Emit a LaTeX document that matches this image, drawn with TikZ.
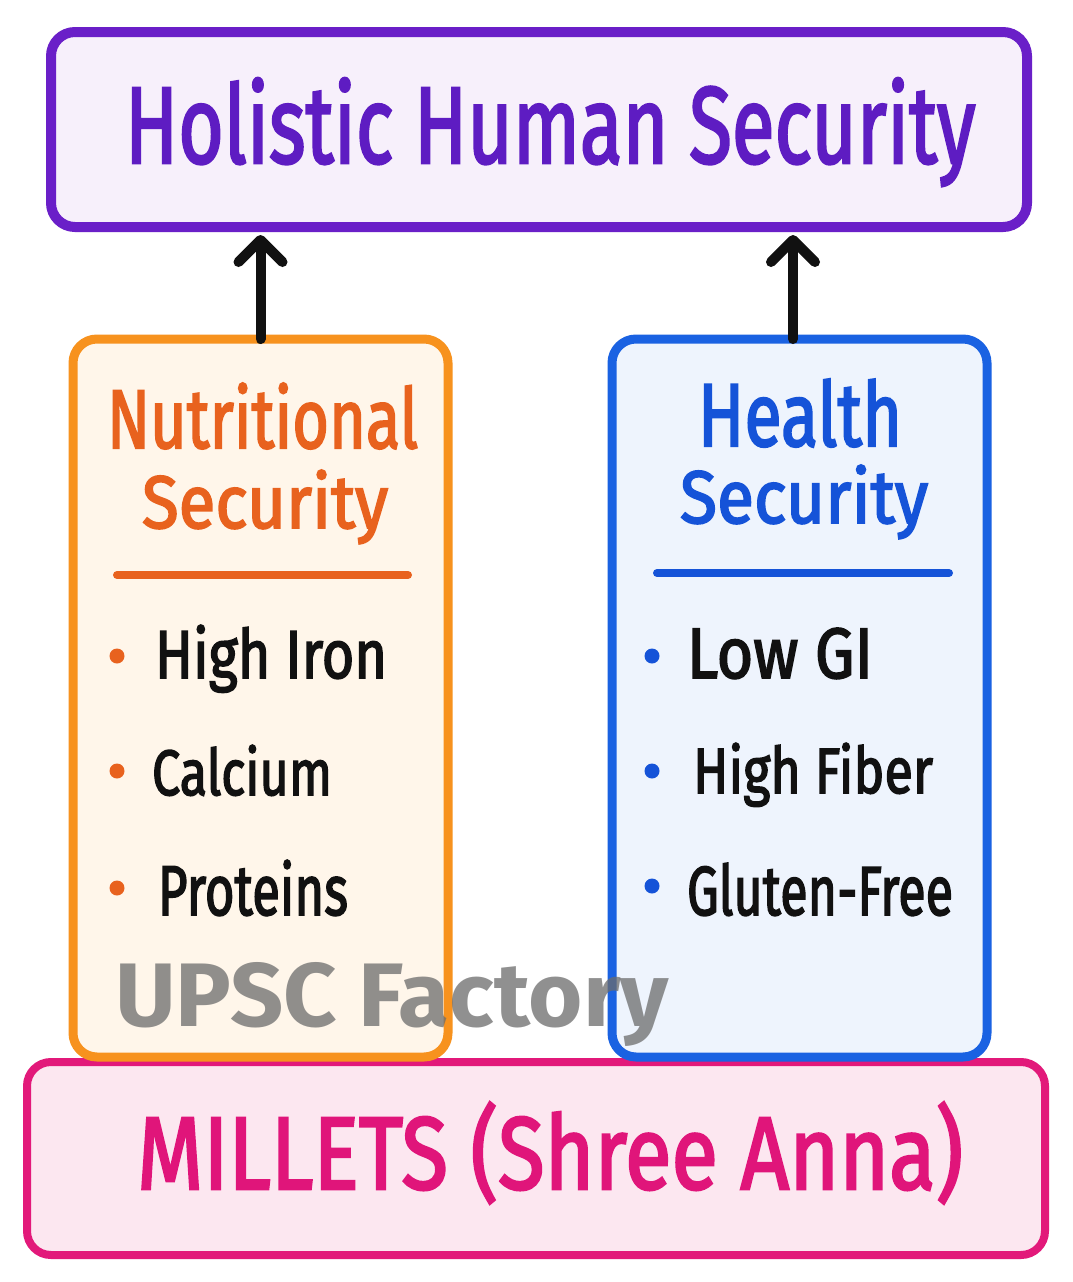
\documentclass[tikz,border=0pt]{standalone}
\usepackage{fontspec}
\setmainfont{Fira Sans}
\newfontfamily\hand{Fira Sans}[FakeBold=2.5]
\usetikzlibrary{arrows.meta}
\definecolor{purpleline}{HTML}{6A1FC8}
\definecolor{purpletext}{HTML}{5E1CC2}
\definecolor{purplefill}{HTML}{F7F0FB}
\definecolor{orangeline}{HTML}{F7921E}
\definecolor{orangetext}{HTML}{E8621E}
\definecolor{orangefill}{HTML}{FFF6EA}
\definecolor{blueline}{HTML}{1A62E2}
\definecolor{bluetext}{HTML}{1553D8}
\definecolor{bluefill}{HTML}{EEF4FD}
\definecolor{pinkline}{HTML}{E2197A}
\definecolor{pinktext}{HTML}{E0157A}
\definecolor{pinkfill}{HTML}{FCE7F0}
\definecolor{inkblack}{HTML}{111111}
\newcommand\fitbox[3]{\resizebox{#1pt}{#2pt}{#3}}
\tikzset{
  panel/.style={draw, rounded corners=24pt, inner sep=0pt, outer sep=0pt},
  txt/.style={inner sep=0pt, outer sep=0pt, anchor=base west, font=\hand},
  dot/.style={circle, inner sep=0pt, minimum size=15pt},
  rule/.style={line width=8pt, line cap=round},
  uparrow/.style={draw=inkblack, line width=10pt, line cap=round,
    -{Straight Barb[length=22pt, width=44pt, round]}},
}
\begin{document}
\begin{tikzpicture}[x=1pt, y=-1pt]
\useasboundingbox[fill=white] (0,0) rectangle (1072,1282);

% bottom box
\node[panel, draw=pinkline, fill=pinkfill, line width=8pt,
  minimum width=1018pt, minimum height=193pt] (mil) at (536,1158.5) {};
% top box
\node[panel, draw=purpleline, fill=purplefill, line width=10pt,
  minimum width=976pt, minimum height=195pt] (hol) at (539,129.5) {};
% side boxes
\node[panel, draw=orangeline, fill=orangefill, line width=9pt,
  minimum width=375pt, minimum height=718pt] (nut) at (260.5,698) {};
\node[panel, draw=blueline, fill=bluefill, line width=9pt,
  minimum width=375pt, minimum height=718pt] (hea) at (799.5,698) {};

% arrows
\draw[uparrow, shorten >=8pt] (nut.north) -- (nut.north |- hol.south);
\coordinate (ha) at ([xshift=-6.5pt]hea.north);
\draw[uparrow, shorten >=8pt] (ha) -- (ha |- hol.south);

% titles
\node[txt, text=purpletext] (holt) at (125,163) {\fitbox{850}{85}{Holistic Human Security}};
\node[txt, text=orangetext] (nut1) at (107,448) {\fitbox{311}{65}{Nutritional}};
\node[txt, text=orangetext] (nut2) at (142,528) {\fitbox{246}{58}{Security}};
\node[txt, text=bluetext] (hea1) at (698,446) {\fitbox{204}{67}{Health}};
\node[txt, text=bluetext] (hea2) at (680,523) {\fitbox{248}{58}{Security}};
\node[txt, text=pinktext] (milt) at (137,1189) {\fitbox{826}{87}{MILLETS (Shree Anna)}};

% underlines
\coordinate (nu1) at (117,575); \coordinate (nu2) at (408,575);
\draw[rule, orangetext] (nu1) -- (nu2);
\coordinate (hu1) at (657,573); \coordinate (hu2) at (949,573);
\draw[rule, bluetext] (hu1) -- (hu2);

% orange list
\node[dot, fill=orangetext] (nb1) at (117,656) {};
\node[dot, fill=orangetext] (nb2) at (117,771) {};
\node[dot, fill=orangetext] (nb3) at (117,888) {};
\node[txt, text=inkblack] (ni1) at (155,678) {\fitbox{232}{53}{High Iron}};
\node[txt, text=inkblack] (ni2) at (152,795) {\fitbox{180}{50}{Calcium}};
\node[txt, text=inkblack] (ni3) at (158,915) {\fitbox{190}{55}{Proteins}};

% blue list
\node[dot, fill=bluetext] (hb1) at (652,656) {};
\node[dot, fill=bluetext] (hb2) at (652,771) {};
\node[dot, fill=bluetext] (hb3) at (652,886) {};
\node[txt, text=inkblack] (hi1) at (687,678) {\fitbox{186}{50}{Low GI}};
\node[txt, text=inkblack] (hi2) at (693,793) {\fitbox{240}{50}{High Fiber}};
\node[txt, text=inkblack] (hi3) at (687,915) {\fitbox{266}{52}{Gluten-Free}};

% watermark
\node[txt, font=\normalfont, text=gray!85!black, opacity=0.75] (wm) at (115,1026)
  {\fitbox{553}{64}{\bfseries UPSC Factory}};
\end{tikzpicture}
\end{document}
